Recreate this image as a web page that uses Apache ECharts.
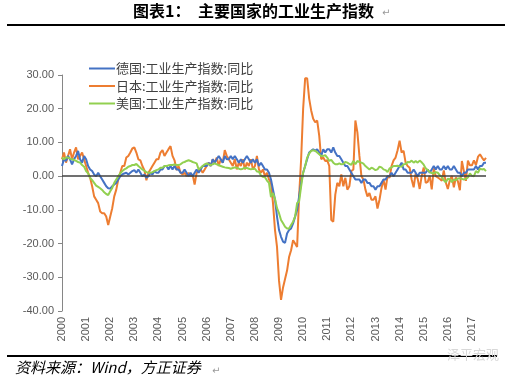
<!DOCTYPE html>
<html><head><meta charset="utf-8">
<script src="https://cdn.jsdelivr.net/npm/echarts@6/dist/echarts.min.js"></script>
<style>html,body{margin:0;padding:0;background:#fff}#c{width:510px;height:382px}</style>
</head><body><div id="c"></div>
<script>
const years = ['2000','2001','2002','2003','2004','2005','2006','2007','2008','2009','2010','2011','2012','2013','2014','2015','2016','2017'];
const monthsInLastYear = 8;
const seriesNames = ['德国:工业生产指数:同比','日本:工业生产指数:同比','美国:工业生产指数:同比'];
const yTicks = [-40,-30,-20,-10,0,10,20,30];

const germany = [
 3, 5, 4.5, 6, 5, 3.5, 5, 6, 7.5, 5, 4, 6,
 5, 3, 2, 1.5, 0.5, 0, 1, 0, -1, -2, -3, -3.6,
 -3.7, -3, -2.5, -2, -1, 0, 0.5, 0.8, 1, 0.5, 1, 1.5,
 1.8, 1, 2, 1, 0, 0.5, -0.5, 0, 1, 0.5, 1.5, 1,
 1, 2, 2, 3, 3, 2, 3, 2, 3, 2, 2, 1,
 1, 2, 1, 0, 1, 0, 1, 2, 1, 2, 3, 3,
 3, 4, 3, 5, 4, 5, 6, 5, 4, 6, 5, 5,
 6, 5, 6, 5, 4, 5, 4, 5, 6, 5, 4, 5,
 4, 5, 3, 4, 3, 2, 2, 1, -1, -4, -7, -12,
 -16, -18, -19.4, -19.8, -17, -16, -15.5, -14, -12, -10, -6, -2,
 1, 3, 5, 7, 7.5, 8, 7.5, 8, 7, 6, 8, 7,
 8, 8, 7, 8.5, 7, 6, 6, 5, 4, 3, 3, 2,
 1, 0, -1, -1, -1, -2, -1, -1, -2, -2, -3, -3,
 -4, -3, -3, -2, -1, -1, 0, 0, 1, 0, 1, 2,
 3, 4, 2, 2, 1, 1, 1, 2, 1, 0, 1, 1,
 1, 1, 2, 1, 2, 3, 2, 3, 2, 2, 3, 2,
 3, 2, 2, 3, 2, 1, 1, 0, 1, 1, 2, 2,
 2, 2, 3, 2, 3, 3, 4, 4
];
const japan = [
 5, 7, 4, 6, 8, 5, 7, 8.5, 5, 6, 7, 5,
 3, 1, -0.5, -3, -6, -7, -8, -10.5, -11, -11, -12, -14.5,
 -12, -9.5, -6, -4, -1, 1, 3, 3, 5.5, 6, 7, 8.2,
 8.5, 7, 5, 4.7, 3, 1.8, -1.2, 1, 2, 3, 4, 5,
 5, 7, 7.7, 6, 7, 8, 8.9, 6, 4.7, 1.8, 3, 1,
 0.5, 1, 0, 1, 0, 0.5, -2.5, 1, 1.5, 2, 1, 2,
 3, 4, 3, 5, 4, 5.5, 3, 5, 4, 7.7, 6, 5,
 4, 3, 5, 2, 4, 3, 5, 2, 4, 3, 5, 2,
 3, 6, 2, 1, 2, 0, 1, -1, -2, -8, -16, -21,
 -31, -36.7, -33, -30.5, -28, -24, -22, -19, -20, -21, -6, 5,
 20, 29, 29, 23, 19.5, 17, 16, 16.5, 12, 5, 5.5, 4.5,
 4.7, 3, -13, -13.5, -5.5, -2, -3, 0.5, -3, -0.5, -4, -3,
 1.5, 2, 16.5, 13, 6, 0, -1, -4, -6, -5, -7, -7,
 -6, -9.6, -7, -3.5, -1, -4, 0, -0.5, 3, 4.7, 5.5, 7.7,
 10.5, 7, 7.5, 4, 3, 2.5, -1, -3.3, 0.8, -0.8, -3.8, 0.1,
 2.6, -2, -1.7, 0.1, -3.9, 2.3, 0, -0.4, -0.8, -1.4, 1.7, -1.9,
 -3.8, -1.2, 0.1, -3.3, -0.4, -1.5, -4.2, 4.5, 1.5, -1.4, 4.6, 3.2,
 3.2, 4.7, 3.3, 5.7, 6.5, 5.5, 4.7, 5.4
];
const usa = [
 5.5, 5, 5.5, 5.5, 5.2, 5, 4.8, 4.5, 4.2, 4, 3.3, 2.8,
 1.5, 0.8, -0.5, -1.2, -2, -2.8, -3.2, -3.6, -4.1, -4.8, -5.3, -5.6,
 -4.5, -3.5, -2, -1, 0, 0.8, 1.5, 2, 2.3, 2.8, 3, 3.3,
 3.3, 3.6, 3, 2.5, 2, 1.6, 1.2, 1, 1, 1.2, 1.5, 1.8,
 2, 2.5, 2.5, 3, 3, 3.2, 3.3, 3.3, 3.5, 3.3, 3.3, 3.5,
 4, 4.2, 4.5, 4.7, 4.5, 4.2, 4, 3.8, 2, 2.5, 3, 3.5,
 3.8, 3.5, 3.3, 3.5, 3.8, 3.5, 3.3, 3, 2.8, 2.6, 2.5, 2.4,
 2.2, 2.4, 2.6, 2.5, 2.2, 2, 2.2, 2.5, 2.4, 2.2, 2, 2.2,
 2.2, 1.4, 1.3, 0.2, -0.2, -0.3, -1.3, -2, -6.2, -5, -6.8, -9.5,
 -11, -13, -14, -15, -15.5, -15.5, -14.5, -13.5, -12, -8, -7.5, -3,
 1, 3, 5.5, 6.7, 7.5, 7.7, 7.5, 7, 6.5, 6, 6, 6.2,
 5.5, 4.5, 4.8, 4, 3.5, 3.5, 3.8, 3.5, 3.6, 4.2, 4, 3.6,
 3.4, 4.5, 3.5, 4.5, 4.2, 4, 3.7, 3, 2.5, 2, 2.5, 2.2,
 1.8, 2, 2.8, 2.6, 2, 1.8, 1.2, 2.3, 2.6, 3, 3, 3.1,
 2.9, 2.8, 3.5, 3.6, 4.2, 4.1, 4.6, 4, 4.5, 4, 4.6, 4.1,
 3.4, 2.3, 1.8, 1.2, 0.9, 0.8, 1.2, 1, 0.3, -0.3, -1.2, -1.8,
 -0.8, -0.9, -1.8, -1, -1.2, -0.7, -0.6, -0.8, -1, -0.8, -0.4, 0.8,
 0.1, 0, 1.5, 1, 2.2, 2, 2.1, 1.5
];

const categories = [];
years.forEach((y, yi) => {
  const n = yi === years.length - 1 ? monthsInLastYear : 12;
  for (let m = 1; m <= n; m++) categories.push(y + '-' + (m < 10 ? '0' + m : m));
});

const colors = ['#4472C4', '#ED7D31', '#92D050'];
const chart = echarts.init(document.getElementById('c'), null, {renderer: 'canvas'});
const cjk = '"Noto Sans CJK SC", sans-serif';
const lineSeries = [germany, japan, usa].map((d, i) => ({
  name: seriesNames[i], type: 'line', data: d, showSymbol: false, symbol: 'none',
  lineStyle: {width: 2, color: colors[i]}, itemStyle: {color: colors[i]}, z: 3 + (i === 1 ? 0 : 1),
  animation: false
}));
lineSeries[0].markLine = {
  silent: true, symbol: ['none', 'none'], label: {show: false},
  lineStyle: {color: '#404040', width: 1.5, type: 'solid'},
  data: [{yAxis: 0}], animation: false
};

chart.setOption({
  animation: false,
  backgroundColor: '#ffffff',
  grid: {left: 62, right: 24, top: 75, bottom: 71, containLabel: false},
  legend: {
    data: seriesNames, orient: 'vertical', left: 84, top: 57, itemGap: 4.5,
    itemWidth: 26, itemHeight: 10, icon: 'path://M0,4L26,4L26,6L0,6Z',
    textStyle: {fontFamily: cjk, fontSize: 13, color: '#404040', padding: [0, 0, 0, -4]}
  },
  xAxis: {
    type: 'category', data: categories, boundaryGap: false,
    axisLine: {show: false}, axisTick: {show: false},
    axisLabel: {
      interval: 11, rotate: 90, color: '#595959', fontSize: 11, fontFamily: 'Liberation Sans, Arial, sans-serif',
      margin: 6, formatter: v => v.slice(0, 4)
    },
    splitLine: {show: false}
  },
  yAxis: {
    type: 'value', min: yTicks[0], max: yTicks[yTicks.length - 1], interval: 10,
    axisLine: {show: true, lineStyle: {color: '#868686', width: 1}},
    axisTick: {show: true, inside: false, length: 4, lineStyle: {color: '#868686'}},
    axisLabel: {color: '#595959', fontSize: 11, fontFamily: 'Liberation Sans, Arial, sans-serif', margin: 8, formatter: v => v.toFixed(2)},
    splitLine: {show: false}
  },
  series: lineSeries,
  graphic: [
    {type: 'text', left: 133, top: 3, style: {text: '图表1：', font: 'bold 16px "Noto Sans CJK SC"', fill: '#000'}},
    {type: 'text', left: 198, top: 3, style: {text: '主要国家的工业生产指数', font: 'bold 16px "Noto Sans CJK SC"', fill: '#000'}},
    {type: 'text', left: 382, top: 8, style: {text: '↵', font: '10px "DejaVu Sans"', fill: '#999'}},
    {type: 'rect', shape: {x: 7, y: 24, width: 498, height: 2}, style: {fill: '#000'}},
    {type: 'rect', shape: {x: 7, y: 355, width: 490, height: 2}, style: {fill: '#000'}},
    {type: 'text', left: 15, top: 360, style: {text: '资料来源：Wind，方正证券', font: 'italic 15px "Noto Sans CJK SC"', fill: '#000'}},
    {type: 'text', left: 212, top: 366, style: {text: '↵', font: '10px "DejaVu Sans"', fill: '#999'}},
    {type: 'text', left: 447, top: 348, style: {text: '泽平宏观', font: '13px "Noto Sans CJK SC"', fill: '#d8d8d8'}}
  ]
});
</script></body></html>
